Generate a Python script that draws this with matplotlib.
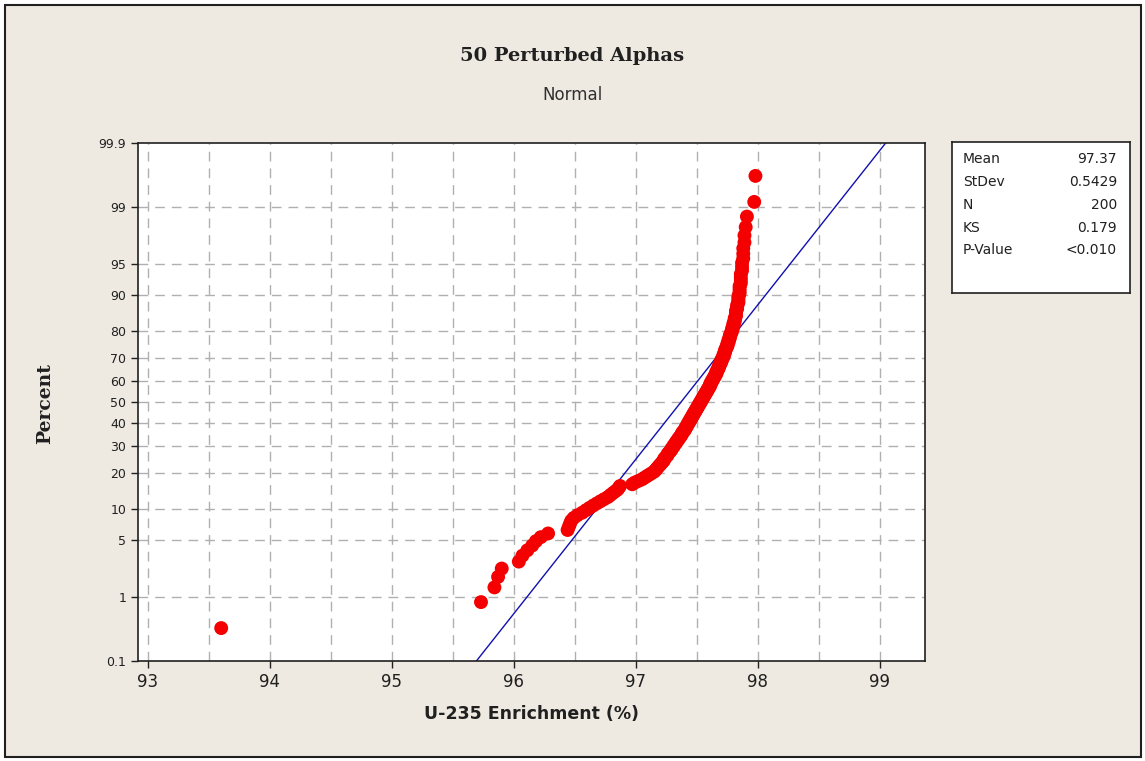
import numpy as np
import matplotlib
matplotlib.use("Agg")
import matplotlib.pyplot as plt
from matplotlib.patches import Rectangle
from statistics import NormalDist

# sorted U-235 enrichment values (%), n = 200
ENRICHMENT = [
  93.60, 95.73, 95.84, 95.87, 95.90, 96.04, 96.07, 96.11, 96.15, 96.18,
  96.22, 96.28, 96.44, 96.45, 96.46, 96.47, 96.49, 96.52, 96.56, 96.59,
  96.62, 96.65, 96.68, 96.71, 96.74, 96.77, 96.79, 96.81, 96.83, 96.85,
  96.86, 96.87, 96.97, 96.99, 97.02, 97.05, 97.07, 97.09, 97.11, 97.13,
  97.15, 97.16, 97.17, 97.18, 97.19, 97.20, 97.21, 97.22, 97.23, 97.23,
  97.24, 97.25, 97.26, 97.26, 97.27, 97.28, 97.29, 97.29, 97.30, 97.31,
  97.31, 97.32, 97.33, 97.33, 97.34, 97.35, 97.35, 97.36, 97.37, 97.37,
  97.38, 97.38, 97.39, 97.40, 97.40, 97.41, 97.41, 97.42, 97.42, 97.43,
  97.43, 97.44, 97.44, 97.45, 97.45, 97.46, 97.46, 97.47, 97.47, 97.48,
  97.48, 97.49, 97.49, 97.50, 97.50, 97.51, 97.51, 97.52, 97.52, 97.53,
  97.53, 97.54, 97.54, 97.55, 97.55, 97.56, 97.56, 97.57, 97.57, 97.58,
  97.58, 97.59, 97.59, 97.60, 97.60, 97.61, 97.61, 97.61, 97.62, 97.62,
  97.63, 97.63, 97.64, 97.64, 97.65, 97.65, 97.66, 97.66, 97.66, 97.67,
  97.67, 97.68, 97.68, 97.68, 97.69, 97.69, 97.70, 97.70, 97.70, 97.71,
  97.71, 97.72, 97.72, 97.72, 97.73, 97.73, 97.73, 97.74, 97.74, 97.75,
  97.75, 97.75, 97.76, 97.76, 97.76, 97.77, 97.77, 97.77, 97.78, 97.78,
  97.79, 97.79, 97.79, 97.80, 97.80, 97.80, 97.81, 97.81, 97.81, 97.82,
  97.82, 97.82, 97.82, 97.83, 97.83, 97.83, 97.84, 97.84, 97.84, 97.84,
  97.85, 97.85, 97.85, 97.85, 97.86, 97.86, 97.86, 97.86, 97.87, 97.87,
  97.87, 97.88, 97.88, 97.88, 97.89, 97.89, 97.90, 97.91, 97.97, 97.98,
]

MEAN = 97.37
STDEV = 0.5429
STAT_NAMES = ["Mean", "StDev", "N", "KS", "P-Value"]
STAT_VALUES = ["97.37", "0.5429", "200", "0.179", "<0.010"]

X_TICKS = [93, 94, 95, 96, 97, 98, 99]
X_GRID = [93, 93.5, 94, 94.5, 95, 95.5, 96, 96.5, 97, 97.5, 98, 98.5, 99]
Y_TICKS = [0.1, 1, 5, 10, 20, 30, 40, 50, 60, 70, 80, 90, 95, 99, 99.9]

BG = "#EEEAE1"
ND = NormalDist()
_ppf = np.vectorize(ND.inv_cdf, otypes=[float])
_cdf = np.vectorize(ND.cdf, otypes=[float])


def prob_fwd(p):
  p = np.clip(np.asarray(p, dtype=float) / 100.0, 1e-9, 1 - 1e-9)
  return _ppf(p)


def prob_inv(z):
  return _cdf(np.asarray(z, dtype=float)) * 100.0


n = len(ENRICHMENT)
ranks = np.arange(1, n + 1)
percent = (ranks - 0.3) / (n + 0.4) * 100  # median ranks, as Minitab does

fig = plt.figure(figsize=(11.45, 7.61), dpi=100, facecolor="white")
fig.patches.append(Rectangle((5 / 1145, 4 / 761), 1136 / 1145, 752 / 761,
                             transform=fig.transFigure, facecolor=BG,
                             edgecolor="#202020", linewidth=1.5, zorder=-1))

ax = fig.add_axes([138 / 1145, 1 - 661 / 761, 787 / 1145, 518 / 761])
ax.set_facecolor("white")
ax.set_yscale("function", functions=(prob_fwd, prob_inv))
ax.set_xlim(92.918, 99.37)
ax.set_ylim(0.1, 99.9)

for xv in X_GRID:
  ax.axvline(xv, color="#B0B0B0", lw=1, ls=(0, (7, 5)), zorder=0)
for yv in Y_TICKS[1:-1]:
  ax.axhline(yv, color="#B0B0B0", lw=1, ls=(0, (7, 5)), zorder=0)

z_lo = ND.inv_cdf(Y_TICKS[0] / 100)
z_hi = ND.inv_cdf(Y_TICKS[-1] / 100)
ax.plot([MEAN + STDEV * z_lo, MEAN + STDEV * z_hi], [Y_TICKS[0], Y_TICKS[-1]],
        color="#1010B0", lw=1, zorder=2)
ax.scatter(ENRICHMENT, percent, s=100, color="#F50000", edgecolors="none",
           zorder=3, clip_on=False)

ax.set_xticks(X_TICKS)
ax.set_xticklabels([str(t) for t in X_TICKS], fontsize=12, color="#202020")
ax.set_yticks(Y_TICKS)
ax.set_yticklabels([("%g" % t) for t in Y_TICKS], fontsize=9, color="#202020")
ax.yaxis.set_minor_locator(matplotlib.ticker.NullLocator())
ax.tick_params(direction="out", length=5, width=1, color="#202020")
for sp in ax.spines.values():
  sp.set_color("#202020")
  sp.set_linewidth(1.2)

ax.set_xlabel("U-235 Enrichment (%)", fontsize=12.5, fontweight="bold",
              color="#202020", labelpad=10)
fig.text(45 / 1145, 1 - 403 / 761, "Percent", rotation=90, ha="center",
         va="center", fontsize=13.5, fontweight="bold", family="DejaVu Serif",
         color="#202020")

fig.text(0.5, 1 - 56 / 761, "50 Perturbed Alphas", ha="center", va="center",
         fontsize=14, fontweight="bold", family="DejaVu Serif", color="#202020")
fig.text(0.5, 1 - 95 / 761, "Normal", ha="center", va="center", fontsize=12,
         color="#303030")

# stats box
box = fig.add_axes([952 / 1145, 1 - 293 / 761, 178 / 1145, 151 / 761])
box.set_xticks([])
box.set_yticks([])
box.set_facecolor("white")
for sp in box.spines.values():
  sp.set_color("#202020")
  sp.set_linewidth(1.2)
row_y = [159, 182, 205, 228, 250]
for name, val, yy in zip(STAT_NAMES, STAT_VALUES, row_y):
  fig.text(963 / 1145, 1 - yy / 761, name, ha="left", va="center",
           fontsize=10, color="#202020")
  fig.text(1117 / 1145, 1 - yy / 761, val, ha="right", va="center",
           fontsize=10, color="#202020")

fig.savefig("out.png", dpi=100, facecolor=fig.get_facecolor())
